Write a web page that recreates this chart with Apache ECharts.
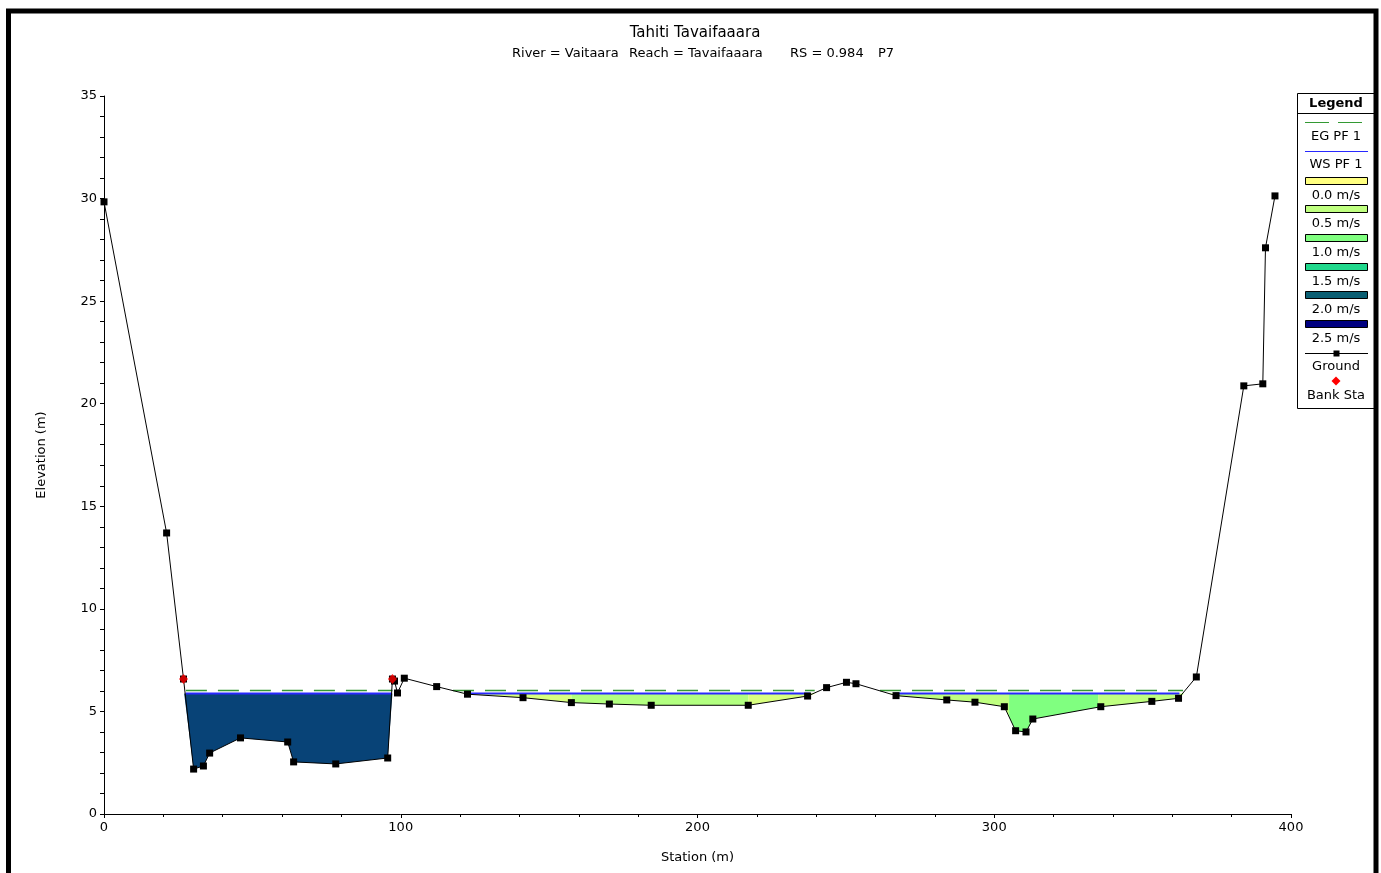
<!DOCTYPE html>
<html>
<head>
<meta charset="utf-8">
<title>Tahiti Tavaifaaara - cross section</title>
<script src="https://cdn.jsdelivr.net/npm/echarts@6/dist/echarts.min.js"></script>
<style>
  html, body { margin: 0; padding: 0; background: #ffffff; }
  #chart { width: 1381px; height: 873px; }
</style>
</head>
<body>
<div id="chart"></div>
<script>
// Ground profile of cross section RS 0.984 (station m, elevation m)
const groundStation = [0, 21.1, 26.8, 30.2, 33.5, 35.6, 46.0, 61.9, 63.9, 78.1, 95.6, 97.2, 97.9, 98.9,
  101.2, 112.1, 122.5, 141.2, 157.5, 170.3, 184.4, 217.1, 237.1, 243.5, 250.2, 253.4, 266.9, 284.0,
  293.5, 303.4, 307.2, 310.7, 313.0, 335.9, 353.1, 362.1, 368.1, 384.1, 390.5, 391.4, 394.6];
const groundElevation = [29.84, 13.70, 6.58, 2.19, 2.34, 2.97, 3.71, 3.51, 2.54, 2.44, 2.73, 6.58, 6.48, 5.90,
  6.62, 6.21, 5.84, 5.67, 5.43, 5.36, 5.30, 5.30, 5.75, 6.16, 6.42, 6.35, 5.77, 5.56,
  5.45, 5.23, 4.06, 4.00, 4.63, 5.23, 5.49, 5.64, 6.68, 20.87, 20.97, 27.60, 30.13];

// Bank stations
const bankStation = [26.8, 97.2];
const bankElevation = [6.58, 6.58];

// Profile PF 1 levels
const wsElevation = 5.87;   // water surface
const egElevation = 6.02;   // energy grade
const wsFrom = [27.5, 122.5, 266.6];
const wsTo = [97.0, 238.0, 362.4];
const egFrom = [27.6, 117.6, 261.5];
const egTo = [97.2, 239.5, 363.6];

// Velocity distribution slices (m/s)
const sliceFrom = [27.0, 120.0, 157.5, 217.1, 264.0, 305.0, 335.0];
const sliceTo = [97.5, 157.5, 217.1, 240.0, 305.0, 335.0, 364.0];
const sliceVelocity = [2.15, 0.3, 0.6, 0.3, 0.5, 1.0, 0.5];

// Legend velocity classes
const velocityClasses = [0.0, 0.5, 1.0, 1.5, 2.0, 2.5];
const velocityLabels = ['0.0 m/s', '0.5 m/s', '1.0 m/s', '1.5 m/s', '2.0 m/s', '2.5 m/s'];

// Axis ticks
const stationTicks = [0, 100, 200, 300, 400];
const elevationTicks = [0, 5, 10, 15, 20, 25, 30, 35];

const CLASS_COLORS = ['#FFFF80', '#BFFF80', '#80FF80', '#20D88C', '#0B5F73', '#000080'];
const FONT = '"DejaVu Sans", Verdana, sans-serif';

function hexToRgb(h) {
  return [parseInt(h.slice(1, 3), 16), parseInt(h.slice(3, 5), 16), parseInt(h.slice(5, 7), 16)];
}
function velocityColor(v) {
  const n = velocityClasses.length;
  if (v <= velocityClasses[0]) return CLASS_COLORS[0];
  if (v >= velocityClasses[n - 1]) return CLASS_COLORS[n - 1];
  let i = 0;
  while (v > velocityClasses[i + 1]) i++;
  const t = (v - velocityClasses[i]) / (velocityClasses[i + 1] - velocityClasses[i]);
  const a = hexToRgb(CLASS_COLORS[i]), b = hexToRgb(CLASS_COLORS[i + 1]);
  const c = a.map((x, k) => Math.round(x + (b[k] - x) * t));
  return 'rgb(' + c.join(',') + ')';
}

function groundAt(x) {
  for (let i = 0; i < groundStation.length - 1; i++) {
    const x0 = groundStation[i], x1 = groundStation[i + 1];
    if (x >= x0 && x <= x1) {
      if (x1 === x0) return groundElevation[i];
      return groundElevation[i] + (groundElevation[i + 1] - groundElevation[i]) * (x - x0) / (x1 - x0);
    }
  }
  return groundElevation[groundElevation.length - 1];
}

function levelSegments(from, to, level) {
  const out = [];
  from.forEach((x, i) => {
    if (i > 0) out.push([null, null]);
    out.push([x, level]);
    out.push([to[i], level]);
  });
  return out;
}

const groundData = groundStation.map((x, i) => [x, groundElevation[i]]);
const bankData = bankStation.map((x, i) => [x, bankElevation[i]]);
const sliceData = sliceFrom.map((x, i) => [x, sliceTo[i], sliceVelocity[i], wsElevation]);

const chart = echarts.init(document.getElementById('chart'), null, { renderer: 'canvas' });

// Legend panel
const LX = 1297, LY = 93, LW = 78, LH = 315, LC = 1336;
const TXT = '13px ' + FONT;
const legendEls = [
  { type: 'rect', shape: { x: LX + 0.5, y: LY + 0.5, width: LW, height: LH }, style: { fill: '#ffffff', stroke: '#000', lineWidth: 1 } },
  { type: 'line', shape: { x1: LX, y1: 113.5, x2: LX + LW, y2: 113.5 }, style: { stroke: '#000', lineWidth: 1 } },
  { type: 'text', x: LC, y: 104, style: { text: 'Legend', font: 'bold 13px ' + FONT, fill: '#000', align: 'center', verticalAlign: 'middle' } },
  { type: 'line', shape: { x1: 1305, y1: 122.5, x2: 1368, y2: 122.5 }, style: { stroke: '#339933', lineWidth: 1, lineDash: [24, 9] } },
  { type: 'text', x: LC, y: 137, style: { text: 'EG PF 1', font: TXT, fill: '#000', align: 'center', verticalAlign: 'middle' } },
  { type: 'line', shape: { x1: 1305, y1: 151.5, x2: 1368, y2: 151.5 }, style: { stroke: '#2828ff', lineWidth: 1 } },
  { type: 'text', x: LC, y: 165, style: { text: 'WS PF 1', font: TXT, fill: '#000', align: 'center', verticalAlign: 'middle' } }
];
velocityLabels.forEach((lab, i) => {
  const y0 = 176.5 + i * 28.7;
  legendEls.push({ type: 'rect', shape: { x: 1305.5, y: Math.round(y0) + 0.5, width: 62, height: 7 },
    style: { fill: CLASS_COLORS[i], stroke: '#000', lineWidth: 1 } });
  legendEls.push({ type: 'text', x: LC, y: Math.round(y0) + 18.5,
    style: { text: lab, font: TXT, fill: '#000', align: 'center', verticalAlign: 'middle' } });
});
legendEls.push(
  { type: 'line', shape: { x1: 1305, y1: 353.5, x2: 1368, y2: 353.5 }, style: { stroke: '#000', lineWidth: 1 } },
  { type: 'rect', shape: { x: 1333.5, y: 350.5, width: 6, height: 6 }, style: { fill: '#000' } },
  { type: 'text', x: LC, y: 367, style: { text: 'Ground', font: TXT, fill: '#000', align: 'center', verticalAlign: 'middle' } },
  { type: 'polygon', shape: { points: [[1336, 376.5], [1340.5, 381], [1336, 385.5], [1331.5, 381]] }, style: { fill: '#ff0000' } },
  { type: 'text', x: LC, y: 395.5, style: { text: 'Bank Sta', font: TXT, fill: '#000', align: 'center', verticalAlign: 'middle' } }
);

const option = {
  backgroundColor: '#ffffff',
  animation: false,
  textStyle: { fontFamily: FONT },
  grid: { left: 104, right: 90, top: 96, bottom: 59, containLabel: false },
  xAxis: {
    type: 'value', min: stationTicks[0], max: stationTicks[stationTicks.length - 1], interval: 100,
    name: 'Station (m)', nameLocation: 'middle', nameGap: 37,
    nameTextStyle: { color: '#000', fontSize: 13, fontFamily: FONT },
    axisLine: { show: true, onZero: false, lineStyle: { color: '#000', width: 1 } },
    axisTick: { show: true, inside: false, length: 4, lineStyle: { color: '#000' } },
    minorTick: { show: true, splitNumber: 5, length: 3, lineStyle: { color: '#000' } },
    axisLabel: { color: '#000', fontSize: 13, margin: 7, fontFamily: FONT },
    splitLine: { show: false }
  },
  yAxis: {
    type: 'value', min: elevationTicks[0], max: elevationTicks[elevationTicks.length - 1], interval: 5,
    name: 'Elevation (m)', nameLocation: 'middle', nameGap: 56, nameRotate: 90,
    nameTextStyle: { color: '#000', fontSize: 13, fontFamily: FONT },
    axisLine: { show: true, onZero: false, lineStyle: { color: '#000', width: 1 } },
    axisTick: { show: true, inside: false, length: 4, lineStyle: { color: '#000' } },
    minorTick: { show: true, splitNumber: 5, length: 4, lineStyle: { color: '#000' } },
    axisLabel: { color: '#000', fontSize: 13, margin: 7, fontFamily: FONT },
    splitLine: { show: false }
  },
  series: [
    {
      // velocity-coloured flow area between the water surface and the ground
      type: 'custom', name: 'Velocity', coordinateSystem: 'cartesian2d',
      encode: { x: [0, 1], y: 3 }, z: 1, silent: true,
      data: sliceData,
      renderItem: function (params, api) {
        const xa = api.value(0), xb = api.value(1), v = api.value(2), ws = api.value(3);
        const pts = [api.coord([xa, ws]), api.coord([xb, ws])];
        pts.push(api.coord([xb, Math.min(groundAt(xb), ws)]));
        for (let i = groundStation.length - 1; i >= 0; i--) {
          const x = groundStation[i];
          if (x > xa && x < xb) pts.push(api.coord([x, Math.min(groundElevation[i], ws)]));
        }
        pts.push(api.coord([xa, Math.min(groundAt(xa), ws)]));
        return { type: 'polygon', shape: { points: pts }, style: { fill: velocityColor(v), stroke: null } };
      }
    },
    {
      type: 'line', name: 'EG PF 1', data: levelSegments(egFrom, egTo, egElevation),
      connectNulls: false, showSymbol: false, symbol: 'none', z: 3, silent: true,
      lineStyle: { color: '#339933', width: 1.5, type: [21, 11] }
    },
    {
      type: 'line', name: 'WS PF 1', data: levelSegments(wsFrom, wsTo, wsElevation),
      connectNulls: false, showSymbol: false, symbol: 'none', z: 3, silent: true,
      lineStyle: { color: '#2828ff', width: 2 }
    },
    {
      type: 'line', name: 'Ground', data: groundData, z: 5, silent: true,
      symbol: 'rect', symbolSize: 7, showSymbol: true, showAllSymbol: true,
      itemStyle: { color: '#000' },
      lineStyle: { color: '#000', width: 1 }
    },
    {
      type: 'scatter', name: 'Bank Sta', data: bankData, z: 6, silent: true,
      symbol: 'diamond', symbolSize: [9, 10], itemStyle: { color: '#ff0000' }
    }
  ],
  graphic: [
    { type: 'text', x: 695, y: 33, style: { text: 'Tahiti Tavaifaaara', font: '15px ' + FONT, fill: '#000', align: 'center', verticalAlign: 'middle' } },
    { type: 'text', x: 512, y: 54, style: { text: 'River = Vaitaara', font: TXT, fill: '#000', align: 'left', verticalAlign: 'middle' } },
    { type: 'text', x: 629, y: 54, style: { text: 'Reach = Tavaifaaara', font: TXT, fill: '#000', align: 'left', verticalAlign: 'middle' } },
    { type: 'text', x: 790, y: 54, style: { text: 'RS = 0.984', font: TXT, fill: '#000', align: 'left', verticalAlign: 'middle' } },
    { type: 'text', x: 878, y: 54, style: { text: 'P7', font: TXT, fill: '#000', align: 'left', verticalAlign: 'middle' } },
    // outer frame
    { type: 'rect', z: 100, shape: { x: 8.5, y: 11, width: 1367.5, height: 900 }, style: { fill: null, stroke: '#000', lineWidth: 5 } }
  ].concat(legendEls)
};

chart.setOption(option);
</script>
</body>
</html>
